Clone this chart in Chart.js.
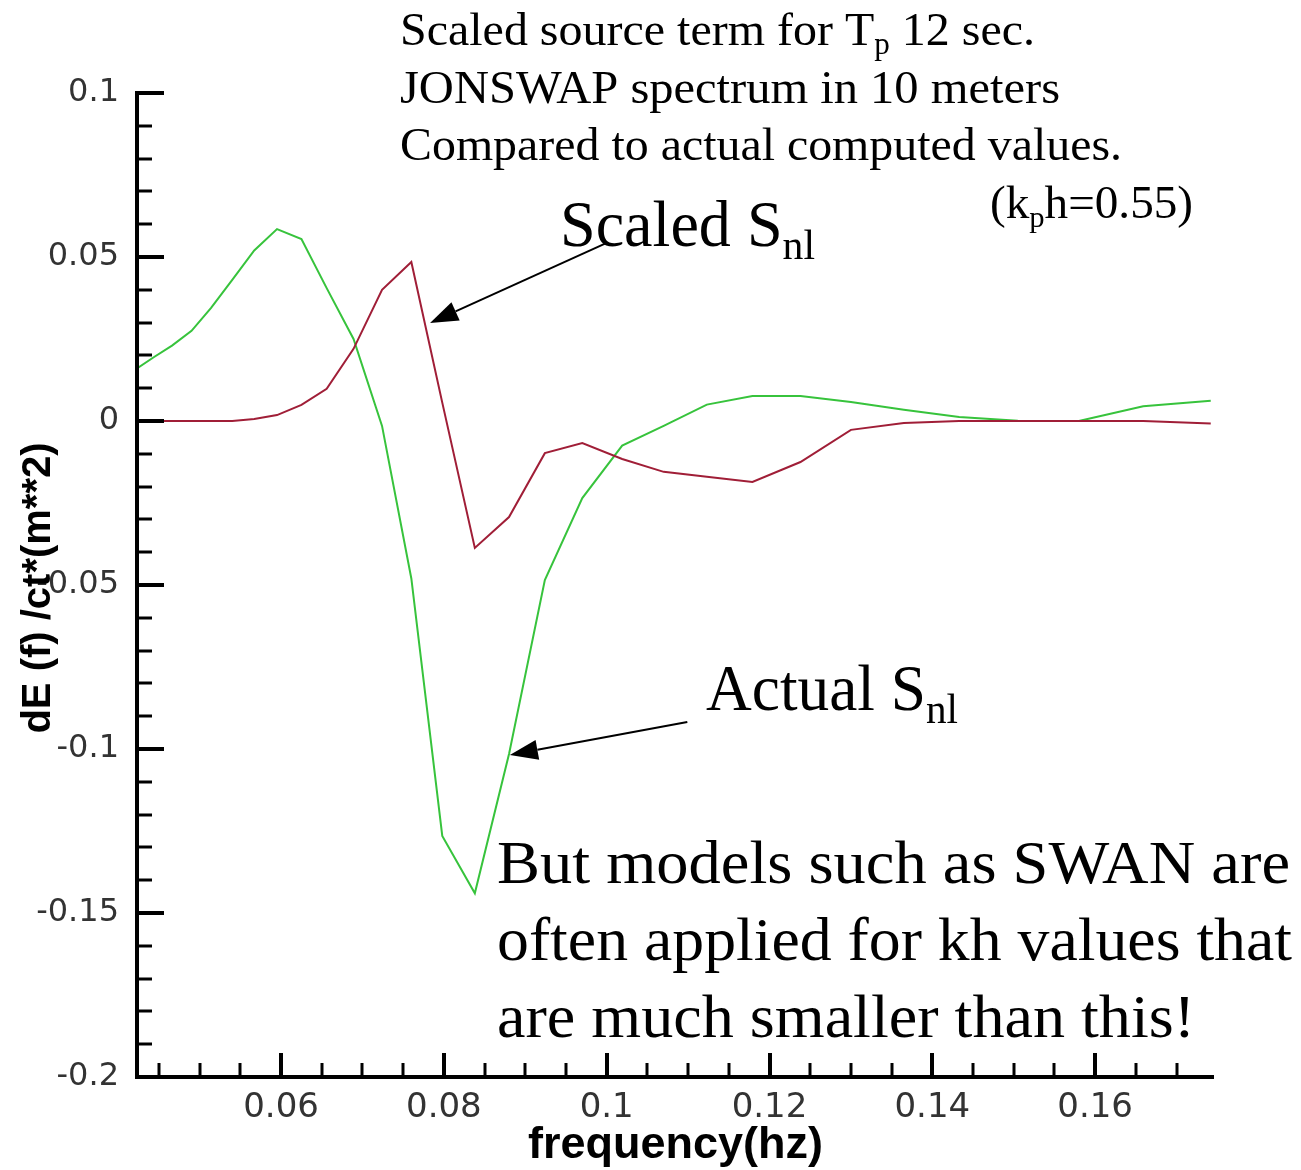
<!DOCTYPE html>
<html>
<head>
<meta charset="utf-8">
<script src="https://cdn.jsdelivr.net/npm/chart.js@4.4.1/dist/chart.umd.min.js"></script>
<style>
  body { margin: 0; background: #fff; }
  canvas { display: block; }
</style>
</head>
<body>
<canvas id="chart" width="1301" height="1170"></canvas>
<script>
// frequency bins (hz)
const freq = [0.0423, 0.0444, 0.0466, 0.0490, 0.0514, 0.0540, 0.0567, 0.0595, 0.0625, 0.0656,
              0.0689, 0.0724, 0.0760, 0.0798, 0.0838, 0.0880, 0.0924, 0.0970, 0.1019, 0.1070,
              0.1123, 0.1179, 0.1238, 0.1300, 0.1365, 0.1433, 0.1505, 0.1580, 0.1659, 0.1742];

// actual computed Snl (green)
const actualSnl = [0.016, 0.0195, 0.023, 0.0275, 0.0345, 0.043, 0.052, 0.0585, 0.0555, 0.0405,
                   0.025, -0.0015, -0.048, -0.1265, -0.144, -0.1015, -0.0485, -0.0235, -0.0075, -0.0015,
                   0.005, 0.0076, 0.0076, 0.0058, 0.0034, 0.0012, 0.0001, 0.0, 0.0045, 0.0062];

// scaled Snl (red)
const scaledSnl = [0, 0, 0, 0, 0, 0, 0.0006, 0.0018, 0.0049, 0.0098,
                   0.022, 0.040, 0.0485, 0.0056, -0.0387, -0.0293, -0.0098, -0.0067, -0.0116, -0.0155,
                   -0.017, -0.0186, -0.0125, -0.0027, -0.0006, 0, 0, 0, 0, -0.0008];

const xTickVals = [0.06, 0.08, 0.1, 0.12, 0.14, 0.16];
const xTickLabels = ['0.06', '0.08', '0.1', '0.12', '0.14', '0.16'];
const yTickVals = [0.1, 0.05, 0, -0.05, -0.1, -0.15, -0.2];
const yTickLabels = ['0.1', '0.05', '0', '-0.05', '-0.1', '-0.15', '-0.2'];

const xMin = 0.0423, xMax = 0.1746;
const yMin = -0.2, yMax = 0.1;

// arrows: [tailX, tailY, tipX, tipY] in data units
const arrows = [
  [0.1000, 0.0543, 0.0783, 0.0299],
  [0.1099, -0.0918, 0.0881, -0.1018]
];

function drawRich(ctx, parts, x, y, size, width) {
  ctx.save();
  let natural = 0;
  parts.forEach(p => {
    ctx.font = (p[1] ? size * 0.65 : size) + 'px "Liberation Serif"';
    natural += ctx.measureText(p[0]).width;
  });
  ctx.translate(x, y);
  ctx.scale(width / natural, 1);
  ctx.fillStyle = '#000';
  ctx.textAlign = 'left';
  ctx.textBaseline = 'alphabetic';
  let cx = 0;
  parts.forEach(p => {
    ctx.font = (p[1] ? size * 0.65 : size) + 'px "Liberation Serif"';
    ctx.fillText(p[0], cx, p[1] ? size * 0.2 : 0);
    cx += ctx.measureText(p[0]).width;
  });
  ctx.restore();
}

function drawArrow(ctx, x1, y1, x2, y2) {
  const ang = Math.atan2(y2 - y1, x2 - x1);
  const hl = 28, hw = 10;
  ctx.save();
  ctx.strokeStyle = '#000';
  ctx.fillStyle = '#000';
  ctx.lineWidth = 2;
  ctx.beginPath();
  ctx.moveTo(x1, y1);
  ctx.lineTo(x2 - hl * Math.cos(ang), y2 - hl * Math.sin(ang));
  ctx.stroke();
  ctx.beginPath();
  ctx.moveTo(x2, y2);
  ctx.lineTo(x2 - hl * Math.cos(ang) + hw * Math.sin(ang), y2 - hl * Math.sin(ang) - hw * Math.cos(ang));
  ctx.lineTo(x2 - hl * Math.cos(ang) - hw * Math.sin(ang), y2 - hl * Math.sin(ang) + hw * Math.cos(ang));
  ctx.closePath();
  ctx.fill();
  ctx.restore();
}

const axesPlugin = {
  id: 'axesPlugin',
  beforeDraw(chart) {
    const ctx = chart.ctx;
    ctx.save();
    ctx.fillStyle = '#fff';
    ctx.fillRect(0, 0, chart.width, chart.height);
    ctx.restore();
  },
  afterDatasetsDraw(chart) {
    const ctx = chart.ctx;
    const xs = chart.scales.x, ys = chart.scales.y;
    const left = xs.left, right = xs.right, top = ys.top, bottom = ys.bottom;
    ctx.save();
    ctx.strokeStyle = '#000';
    ctx.lineCap = 'butt';

    // minor ticks
    ctx.lineWidth = 3;
    for (let v = -0.19; v < 0.1; v += 0.01) {
      const py = Math.round(ys.getPixelForValue(v));
      ctx.beginPath(); ctx.moveTo(left, py); ctx.lineTo(left + 15, py); ctx.stroke();
    }
    for (let v = 0.045; v < xMax; v += 0.005) {
      const px = Math.round(xs.getPixelForValue(v));
      ctx.beginPath(); ctx.moveTo(px, bottom); ctx.lineTo(px, bottom - 14); ctx.stroke();
    }
    // major ticks
    ctx.lineWidth = 4;
    yTickVals.forEach(v => {
      const py = Math.round(ys.getPixelForValue(v));
      ctx.beginPath(); ctx.moveTo(left, py); ctx.lineTo(left + 27, py); ctx.stroke();
    });
    xTickVals.forEach(v => {
      const px = Math.round(xs.getPixelForValue(v));
      ctx.beginPath(); ctx.moveTo(px, bottom); ctx.lineTo(px, bottom - 24); ctx.stroke();
    });
    // axis lines
    ctx.lineWidth = 4;
    ctx.beginPath();
    ctx.moveTo(left, top - 2);
    ctx.lineTo(left, bottom);
    ctx.lineTo(right, bottom);
    ctx.stroke();

    // axis titles
    ctx.fillStyle = '#000';
    ctx.font = 'bold 45px "Liberation Sans"';
    ctx.textAlign = 'center';
    ctx.textBaseline = 'alphabetic';
    ctx.fillText('frequency(hz)', (left + right) / 2, 1158);

    ctx.save();
    ctx.translate(50, 588);
    ctx.rotate(-Math.PI / 2);
    ctx.font = 'bold 40px "Liberation Sans"';
    ctx.fillText('dE (f) /ct*(m**2)', 0, 0);
    ctx.restore();

    // arrows
    arrows.forEach(a => {
      drawArrow(ctx, xs.getPixelForValue(a[0]), ys.getPixelForValue(a[1]),
                xs.getPixelForValue(a[2]), ys.getPixelForValue(a[3]));
    });
    ctx.restore();

    // annotation texts
    drawRich(ctx, [['Scaled source term for T', false], ['p', true], [' 12 sec.', false]], 400, 45, 47, 635);
    drawRich(ctx, [['JONSWAP spectrum in 10 meters', false]], 400, 103, 47, 660);
    drawRich(ctx, [['Compared to actual computed values.', false]], 400, 160, 47, 722);
    drawRich(ctx, [['(k', false], ['p', true], ['h=0.55)', false]], 990, 218, 46, 203);
    drawRich(ctx, [['Scaled S', false], ['nl', true]], 560, 246, 66, 255);
    drawRich(ctx, [['Actual S', false], ['nl', true]], 706, 710, 66, 252);
    drawRich(ctx, [['But models such as SWAN are', false]], 497, 883, 62, 793);
    drawRich(ctx, [['often applied for kh values that', false]], 497, 960, 62, 795);
    drawRich(ctx, [['are much smaller than this!', false]], 497, 1037, 62, 698);
  }
};

new Chart(document.getElementById('chart').getContext('2d'), {
  type: 'line',
  data: {
    datasets: [
      {
        label: 'Scaled Snl',
        data: freq.map((f, i) => ({ x: f, y: scaledSnl[i] })),
        borderColor: 'rgb(160,30,55)',
        borderWidth: 2,
        pointRadius: 0,
        tension: 0,
        fill: false
      },
      {
        label: 'Actual Snl',
        data: freq.map((f, i) => ({ x: f, y: actualSnl[i] })),
        borderColor: 'rgb(55,195,60)',
        borderWidth: 2,
        pointRadius: 0,
        tension: 0,
        fill: false
      }
    ]
  },
  options: {
    responsive: false,
    animation: false,
    devicePixelRatio: 1,
    layout: { padding: { top: 93, right: 87, left: 0, bottom: 0 } },
    plugins: { legend: { display: false }, tooltip: { enabled: false } },
    scales: {
      x: {
        type: 'linear',
        min: xMin,
        max: xMax,
        afterFit: s => { s.height = 93; },
        afterBuildTicks: s => { s.ticks = xTickVals.map(v => ({ value: v })); },
        grid: { display: false, drawTicks: false },
        border: { display: false },
        ticks: {
          padding: 11,
          color: '#333',
          font: { family: 'DejaVu Sans', size: 34 },
          maxRotation: 0,
          autoSkip: false,
          callback: v => xTickLabels[xTickVals.findIndex(t => Math.abs(t - v) < 1e-9)] || ''
        }
      },
      y: {
        type: 'linear',
        min: yMin,
        max: yMax,
        afterFit: s => { s.width = 137; },
        afterBuildTicks: s => { s.ticks = yTickVals.map(v => ({ value: v })); },
        grid: { display: false, drawTicks: false },
        border: { display: false },
        ticks: {
          padding: 18,
          color: '#333',
          font: { family: 'DejaVu Sans', size: 32 },
          autoSkip: false,
          callback: v => yTickLabels[yTickVals.findIndex(t => Math.abs(t - v) < 1e-9)] || ''
        }
      }
    }
  },
  plugins: [axesPlugin]
});
</script>
</body>
</html>
